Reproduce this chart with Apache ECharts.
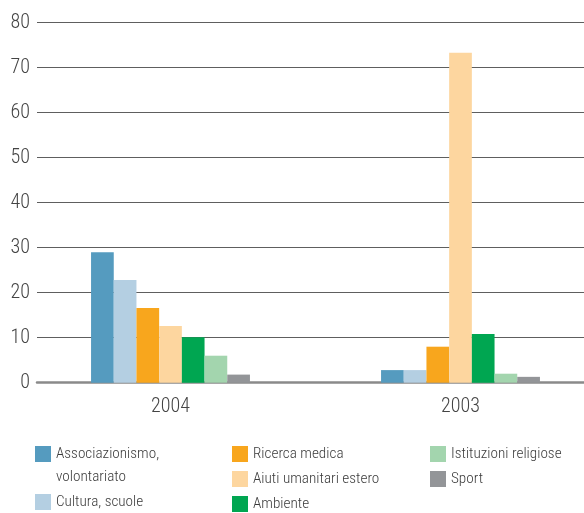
<!DOCTYPE html>
<html>
<head>
<meta charset="utf-8">
<script src="https://cdn.jsdelivr.net/npm/echarts@6/dist/echarts.min.js"></script>
<style>
  html, body { margin: 0; padding: 0; background: #fff; }
  #chart { width: 584px; height: 513px; }
</style>
</head>
<body>
<div id="chart"></div>
<script>
// Years shown on the category axis
var years = ['2004', '2003'];

// Share of donations by destination (%), one value per year
var associazionismo = [29.0, 2.8];
var cultura = [22.8, 2.8];
var ricerca = [16.6, 8.0];
var aiuti = [12.6, 73.3];
var ambiente = [10.1, 10.8];
var istituzioni = [6.0, 2.0];
var sport = [1.8, 1.3];

var yTicks = [0, 10, 20, 30, 40, 50, 60, 70, 80];

var FONT = '"Roboto Condensed", "Liberation Sans", Arial, sans-serif';

var seriesDefs = [
  { name: 'Associazionismo, volontariato', data: associazionismo, color: '#559bbf' },
  { name: 'Cultura, scuole', data: cultura, color: '#b4cfe2' },
  { name: 'Ricerca medica', data: ricerca, color: '#f8a61d' },
  { name: 'Aiuti umanitari estero', data: aiuti, color: '#fdd69f' },
  { name: 'Ambiente', data: ambiente, color: '#00a651' },
  { name: 'Istituzioni religiose', data: istituzioni, color: '#a3d5ae' },
  { name: 'Sport', data: sport, color: '#939598' }
];

var plotTop = 22.7, plotBottom = 130.3;

var legendText = { fontFamily: FONT, fontSize: 15.2, fontWeight: 300, lineHeight: 16, color: '#3a3a3a' };

var legendBase = {
  orient: 'vertical',
  padding: 0,
  itemWidth: 16,
  itemHeight: 16,
  itemGap: 9,
  selectedMode: false,
  textStyle: legendText
};

var option = {
  animation: false,
  backgroundColor: '#ffffff',
  grid: [
    // grid holding the value scale and horizontal rules
    { left: 37, right: 0, top: plotTop, bottom: plotBottom, outerBoundsMode: 'none' },
    // grid holding the grouped bars (wider than the rules so the groups sit where they do)
    { left: 25.5, width: 580, top: plotTop, bottom: plotBottom, outerBoundsMode: 'none' }
  ],
  xAxis: [
    {
      type: 'category', gridIndex: 0, data: years,
      axisLine: { show: true, onZero: true, lineStyle: { color: '#8a8a8a', width: 2.5 } },
      axisTick: { show: false }, axisLabel: { show: false }, splitLine: { show: false }
    },
    {
      type: 'category', gridIndex: 1, data: years,
      axisLine: { show: false }, axisTick: { show: false },
      axisLabel: { fontFamily: FONT, fontSize: 20, fontWeight: 300, color: '#444', margin: 14 }
    }
  ],
  yAxis: [
    {
      type: 'value', gridIndex: 0, min: 0, max: 80, interval: 10,
      axisLine: { show: false }, axisTick: { show: false },
      axisLabel: {
        fontFamily: FONT, fontSize: 20, fontWeight: 300, color: '#444', margin: 7,
        formatter: function (v) { return yTicks.indexOf(v) >= 0 ? String(v) : ''; }
      },
      splitLine: { show: true, lineStyle: { color: '#5e5e5e', width: 1.2 } }
    },
    {
      type: 'value', gridIndex: 1, min: 0, max: 80, interval: 10, show: false,
      splitLine: { show: false }
    }
  ],
  legend: [
    Object.assign({}, legendBase, {
      left: 35, top: 442.5,
      itemHeight: 39,
      textStyle: Object.assign({}, legendText, { lineHeight: 23 }),
      data: [{ name: 'Associazionismo, volontariato', icon: 'path://M0,0L16,0L16,16L0,16Z M0,39L0,39Z' }],
      formatter: function () { return 'Associazionismo,\nvolontariato'; }
    }),
    Object.assign({}, legendBase, {
      left: 35, top: 494, icon: 'rect',
      data: ['Cultura, scuole']
    }),
    Object.assign({}, legendBase, {
      left: 232, top: 446, icon: 'rect',
      data: ['Ricerca medica', 'Aiuti umanitari estero', 'Ambiente']
    }),
    Object.assign({}, legendBase, {
      left: 430, top: 446, icon: 'rect',
      data: ['Istituzioni religiose', 'Sport']
    })
  ],
  series: seriesDefs.map(function (s) {
    return {
      type: 'bar',
      name: s.name,
      xAxisIndex: 1,
      yAxisIndex: 1,
      data: s.data,
      barWidth: 22.7,
      barGap: '0%',
      itemStyle: { color: s.color },
      emphasis: { disabled: true }
    };
  })
};

var chart = echarts.init(document.getElementById('chart'), null, { renderer: 'canvas' });
chart.setOption(option);
</script>
</body>
</html>
